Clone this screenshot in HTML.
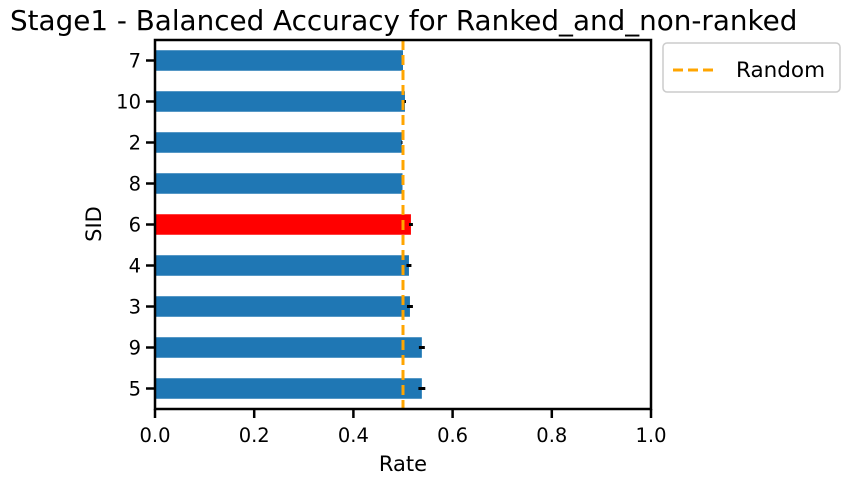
<!DOCTYPE html>
<html><head><meta charset="utf-8"><style>
body{margin:0;background:#fff;}
svg text{font-family:"DejaVu Sans","Liberation Sans",sans-serif;fill:#000;}
</style></head><body>
<svg id="chart" width="850" height="485">
<text x="10" y="30" font-size="27.8">Stage1 - Balanced Accuracy for Ranked_and_non-ranked</text>
<g id="plot"></g>
</svg>
<script>
const categories=['7','10','2','8','6','4','3','9','5'];
const values=[0.500,0.504,0.498,0.499,0.516,0.512,0.514,0.538,0.538];
const errors=[0.001,0.002,0.001,0.002,0.004,0.005,0.006,0.006,0.007];
const highlight=['6'];
const xTicks=[0,0.2,0.4,0.6,0.8,1.0];
const xTickLabels=['0.0','0.2','0.4','0.6','0.8','1.0'];
const randomLevel=0.5;
const L=155,R=651,T=40,B=409;
const n=categories.length;
const xs=v=>L+v*(R-L);
const ys=i=>T+(i+0.5)*(B-T)/n;
const bh=0.5*(B-T)/n;
const g=document.getElementById('plot');
const NS='http://www.w3.org/2000/svg';
function mk(t,a,p){const e=document.createElementNS(NS,t);for(const k in a)e.setAttribute(k,a[k]);(p||g).appendChild(e);return e;}
categories.forEach((c,i)=>{
 const b=mk('rect',{x:xs(0),y:ys(i)-bh/2,width:xs(values[i])-xs(0),height:bh,fill:highlight.includes(c)?'#ff0000':'#1f77b4'});
 
 
 const e=mk('line',{x1:xs(values[i]-errors[i]),x2:xs(values[i]+errors[i]),y1:ys(i),y2:ys(i),stroke:'#000','stroke-width':3});
 
 
 mk('line',{x1:L-9,x2:L,y1:ys(i),y2:ys(i),stroke:'#000','stroke-width':2.5});
 const t=mk('text',{x:L-14,y:ys(i)+7,'font-size':19.5,'text-anchor':'end'});t.textContent=c;
 
 
});
const rl=mk('line',{x1:xs(randomLevel),x2:xs(randomLevel),y1:T,y2:B,stroke:'#ffa500','stroke-width':3,'stroke-dasharray':'10,5'});


const fr=mk('rect',{x:L,y:T,width:R-L,height:B-T,fill:'none',stroke:'#000','stroke-width':2.5});


xTicks.forEach((v,i)=>{
 mk('line',{x1:xs(v),x2:xs(v),y1:B,y2:B+9,stroke:'#000','stroke-width':2.5});
 const t=mk('text',{x:xs(v),y:B+33,'font-size':19.5,'text-anchor':'middle'});t.textContent=xTickLabels[i];
 
 
});
const xt=mk('text',{x:(L+R)/2,y:471,'font-size':21,'text-anchor':'middle'});xt.textContent='Rate';


const yt=mk('text',{x:0,y:0,'font-size':21,'text-anchor':'middle',transform:'translate(101,224) rotate(-90)'});yt.textContent='SID';


const lg=mk('g',{});


mk('rect',{x:663,y:43,width:177,height:49,rx:4,fill:'#fff',stroke:'#ccc','stroke-width':1.5},lg);
mk('line',{x1:673,x2:717,y1:70,y2:70,stroke:'#ffa500','stroke-width':3,'stroke-dasharray':'10,5'},lg);
const lt=mk('text',{x:736,y:77,'font-size':21.5},lg);lt.textContent='Random';


</script>
</body></html>
